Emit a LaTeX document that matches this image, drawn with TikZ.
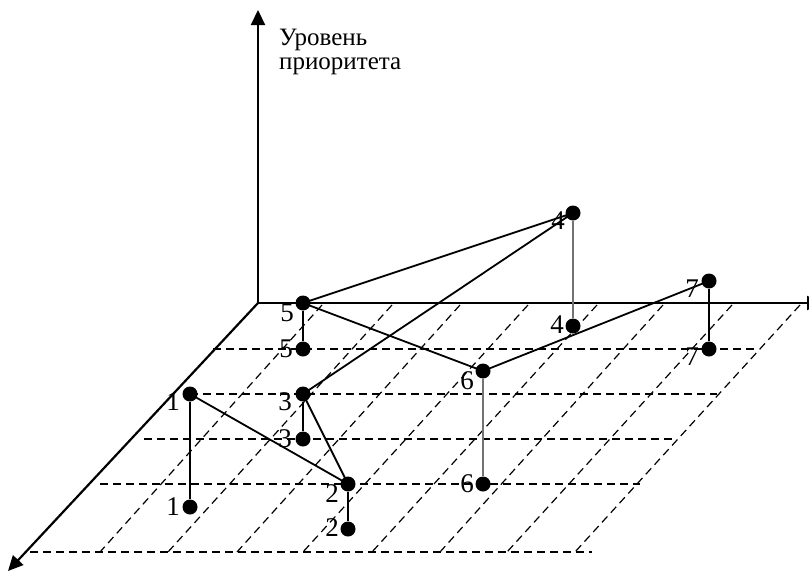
\documentclass[tikz,border=0pt]{standalone}
\usepackage{fontspec}
\setmainfont{Liberation Serif}
\usetikzlibrary{arrows.meta,calc}
\begin{document}
\begin{tikzpicture}[x=1pt,y=-1pt,
  axis/.style={line width=2.2pt,-{Triangle[length=15pt,width=14pt]}},
  griddash/.style={line width=1.2pt,dash pattern=on 8pt off 5pt},
  link/.style={line width=1.8pt},
  drop/.style={line width=1.2pt},
  dropgray/.style={line width=1.4pt,black!55},
  dot/.style={circle,fill=black,inner sep=0pt,minimum size=15pt},
  num/.style={inner sep=0pt,font=\fontsize{27}{27}\selectfont},
  caption/.style={inner sep=0pt,align=left,anchor=north west,font=\fontsize{25}{24}\selectfont}]
\useasboundingbox (0,0) rectangle (809,571);
\clip (0,0) rectangle (809,571);

% floor grid: horizontal dashed rows
\draw[griddash] (213,349) -- (757,349);
\draw[griddash] (190,394) -- (717,394);
\draw[griddash] (144,439) -- (672,439);
\draw[griddash] (100,484) -- (640,484);
\draw[griddash] (30,552) -- (592,552);
% floor grid: oblique dashed columns
\foreach \t/\b in {322/100,392/168,460/237,528/303,597/372,663/440,732/507,800/575}
  \draw[griddash] (\t,305) -- (\b,552);

% axes
\coordinate (O) at (258,303);
\coordinate (zend) at (258,10);
\coordinate (xend) at (822,303);
\coordinate (yend) at (8,571);
\draw[axis] (O) -- (zend);
\draw[axis] (O) -- (xend);
\draw[axis] (O) -- (yend);
\node[caption] (title) at (279,29) {Уровень\\приоритета};

% points: raised (a) and projected onto the floor (b)
\node[dot] (a1) at (190,394) {};
\node[dot] (b1) at (190,507) {};
\node[dot] (a2) at (348,484) {};
\node[dot] (b2) at (348,529) {};
\node[dot] (a3) at (303,394) {};
\node[dot] (b3) at (303,439) {};
\node[dot] (a4) at (573,213) {};
\node[dot] (b4) at (573,326) {};
\node[dot] (a5) at (303,303) {};
\node[dot] (b5) at (303,349) {};
\node[dot] (a6) at (483,371) {};
\node[dot] (b6) at (483,484) {};
\node[dot] (a7) at (709,281) {};
\node[dot] (b7) at (709,349) {};

% vertical drops
\draw[drop] (a1) -- (b1);
\draw[drop] (a2) -- (b2);
\draw[drop] (a3) -- (b3);
\draw[dropgray] (a4) -- (b4);
\draw[drop] (a5) -- (b5);
\draw[dropgray] (a6) -- (b6);
\draw[drop] (a7) -- (b7);

% route through the raised points
\draw[link] (a5.center) -- (a4.center) -- (a3.center) -- (a2.center) -- (a1.center);
\draw[link] (a5.center) -- (a6.center) -- (a7.center);

% labels
\node[num] (la1) at ($(a1)+(-17,8)$) {1};
\node[num] (lb1) at ($(b1)+(-17,0)$) {1};
\node[num] (la2) at ($(a2)+(-16,10)$) {2};
\node[num] (lb2) at ($(b2)+(-16,-1)$) {2};
\node[num] (la3) at ($(a3)+(-18,8)$) {3};
\node[num] (lb3) at ($(b3)+(-18,0)$) {3};
\node[num] (la4) at ($(a4)+(-15,8)$) {4};
\node[num] (lb4) at ($(b4)+(-16,-1)$) {4};
\node[num] (la5) at ($(a5)+(-16,10)$) {5};
\node[num] (lb5) at ($(b5)+(-17,0)$) {5};
\node[num] (la6) at ($(a6)+(-16,10)$) {6};
\node[num] (lb6) at ($(b6)+(-16,0)$) {6};
\node[num] (la7) at ($(a7)+(-17,8)$) {7};
\node[num] (lb7) at ($(b7)+(-17,8)$) {7};
\end{tikzpicture}
\end{document}
